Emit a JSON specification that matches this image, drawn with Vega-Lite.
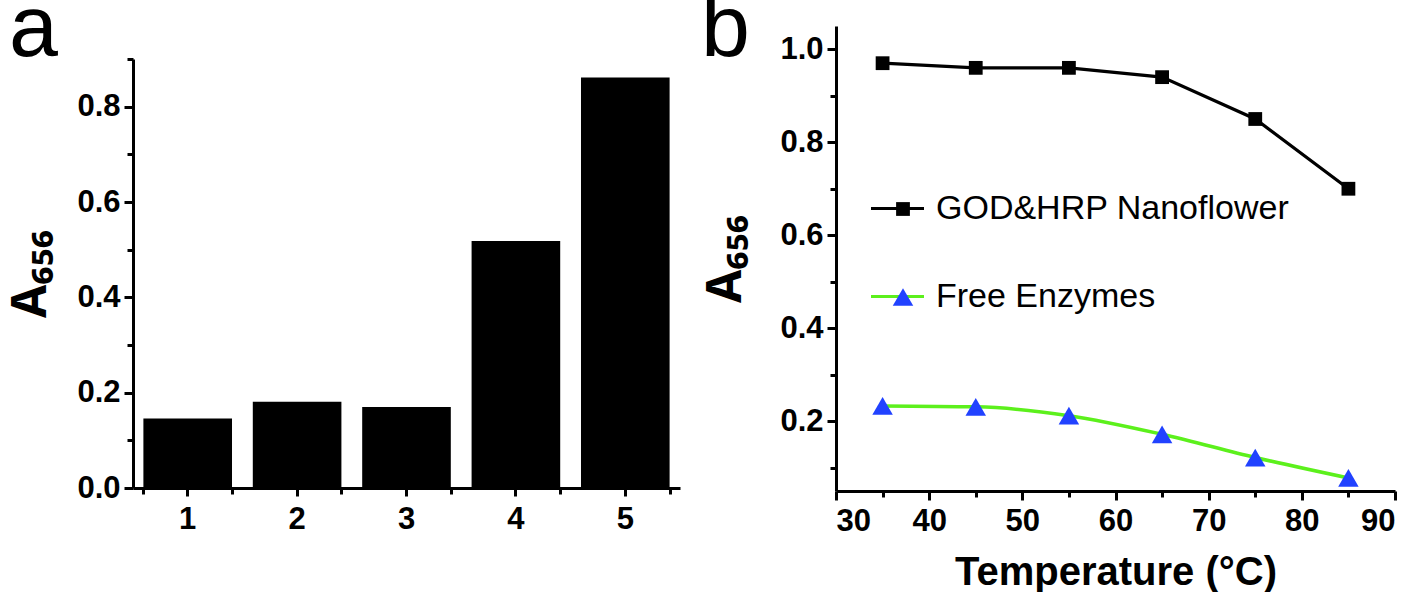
{
  "$schema": "https://vega.github.io/schema/vega-lite/v6.json",
  "background": "white",
  "padding": {"left": 7, "top": -14, "right": 0, "bottom": 0},
  "spacing": 20,
  "config": {
    "font": "Liberation Sans",
    "view": {"stroke": null},
    "axis": {
      "labelFont": "Liberation Sans",
      "labelFontWeight": "bold",
      "labelFontSize": 31,
      "labelColor": "black",
      "domainColor": "black",
      "domainWidth": 3,
      "tickColor": "black",
      "tickWidth": 3,
      "grid": false,
      "titleFont": "Liberation Sans",
      "titleFontWeight": "bold",
      "titleColor": "black"
    },
    "legend": {"labelFont": "Liberation Sans", "labelColor": "black"},
    "title": {"font": "Liberation Sans", "fontSize": 88, "fontWeight": "normal", "color": "black", "anchor": "start", "frame": "bounds"}
  },
  "hconcat": [
    {
      "title": {"text": "a", "offset": -48, "dx": 1},
      "width": 547,
      "height": 462,
      "data": {"values": [
        {"sample": "1", "A656": 0.146},
        {"sample": "2", "A656": 0.181},
        {"sample": "3", "A656": 0.170},
        {"sample": "4", "A656": 0.518},
        {"sample": "5", "A656": 0.861}
      ]},
      "layer": [
        {
          "mark": {"type": "bar", "color": "black"},
          "encoding": {
            "x": {"field": "sample", "type": "ordinal",
              "scale": {"paddingInner": 0.19, "paddingOuter": 0.095},
              "axis": {"title": null, "labelAngle": 0, "tickSize": 8, "labelPadding": 8, "orient": "bottom"}},
            "y": {"field": "A656", "type": "quantitative",
              "scale": {"domain": [0, 0.9], "nice": false, "rangeMax": 33},
              "axis": {"title": "A₆₅₆", "titleFont": "Noto Sans", "titleFontSize": 48, "titlePadding": 21, "values": [0, 0.2, 0.4, 0.6, 0.8], "format": ".1f", "tickSize": 9, "labelPadding": 4, "orient": "left"}}
          }
        },
        {
          "mark": {"type": "bar", "opacity": 0},
          "encoding": {
            "x": {"field": "sample", "type": "ordinal",
              "axis": {"title": null, "labels": false, "domain": false, "tickBand": "extent", "tickSize": 6, "orient": "bottom"}},
            "y": {"field": "A656", "type": "quantitative",
              "axis": {"title": null, "labels": false, "domain": false, "values": [0.1, 0.3, 0.5, 0.7, 0.9], "tickSize": 6, "orient": "left"}}
          }
        }
      ],
      "resolve": {"axis": {"x": "independent", "y": "independent"}}
    },
    {
      "title": {"text": "b", "offset": -48, "dx": -2},
      "width": 559,
      "height": 465,
      "data": {"values": [
        {"temp": 35, "series": "GOD&HRP Nanoflower", "A656": 0.97},
        {"temp": 45, "series": "GOD&HRP Nanoflower", "A656": 0.96},
        {"temp": 55, "series": "GOD&HRP Nanoflower", "A656": 0.96},
        {"temp": 65, "series": "GOD&HRP Nanoflower", "A656": 0.94},
        {"temp": 75, "series": "GOD&HRP Nanoflower", "A656": 0.85},
        {"temp": 85, "series": "GOD&HRP Nanoflower", "A656": 0.70},
        {"temp": 35, "series": "Free Enzymes", "A656": 0.233},
        {"temp": 45, "series": "Free Enzymes", "A656": 0.231},
        {"temp": 55, "series": "Free Enzymes", "A656": 0.212},
        {"temp": 65, "series": "Free Enzymes", "A656": 0.172},
        {"temp": 75, "series": "Free Enzymes", "A656": 0.122},
        {"temp": 85, "series": "Free Enzymes", "A656": 0.078}
      ]},
      "layer": [
        {
          "transform": [{"filter": "datum.series === 'GOD&HRP Nanoflower'"}],
          "mark": {"type": "line", "strokeWidth": 3.2, "interpolate": "linear"},
          "encoding": {
            "x": {"field": "temp", "type": "quantitative",
              "scale": {"domain": [30, 90], "nice": false, "zero": false},
              "axis": {"title": "Temperature (°C)", "titleFontSize": 40, "titlePadding": 16, "values": [30, 40, 50, 60, 70, 80, 90], "tickSize": 9, "labelPadding": 6, "orient": "bottom"}},
            "y": {"field": "A656", "type": "quantitative",
              "scale": {"domain": [0.05, 1.05], "nice": false, "zero": false},
              "axis": {"title": "A₆₅₆", "titleFont": "Noto Sans", "titleFontSize": 48, "titlePadding": 29, "values": [0.2, 0.4, 0.6, 0.8, 1.0], "format": ".1f", "tickSize": 9, "labelPadding": 4, "orient": "left"}},
            "stroke": {"field": "series", "type": "nominal",
              "scale": {"range": ["#5CF01C", "black"]},
              "legend": {"orient": "none", "legendX": 736, "legendY": 154, "title": null, "symbolType": "stroke", "symbolSize": 2809, "symbolStrokeWidth": 3.2, "labelFontSize": 34, "labelFontWeight": "normal", "labelLimit": 500, "labelOffset": 10, "rowPadding": 42, "values": ["GOD&HRP Nanoflower", "Free Enzymes"]}}
          }
        },
        {
          "transform": [{"filter": "datum.series === 'Free Enzymes'"}],
          "mark": {"type": "line", "strokeWidth": 3.5, "interpolate": "monotone"},
          "encoding": {
            "x": {"field": "temp", "type": "quantitative", "axis": null},
            "y": {"field": "A656", "type": "quantitative", "axis": null},
            "stroke": {"field": "series", "type": "nominal"}
          }
        },
        {
          "mark": {"type": "point", "filled": true, "opacity": 1, "strokeWidth": 0},
          "encoding": {
            "x": {"field": "temp", "type": "quantitative", "axis": null},
            "y": {"field": "A656", "type": "quantitative", "axis": null},
            "color": {"field": "series", "type": "nominal",
              "scale": {"domain": ["GOD&HRP Nanoflower", "Free Enzymes"], "range": ["black", "#2142FF"]},
              "legend": {"orient": "none", "legendX": 753, "legendY": 166, "title": null, "labelFontSize": 34, "labelOpacity": 0, "rowPadding": 54, "symbolStrokeWidth": 0}},
            "shape": {"field": "series", "type": "nominal",
              "scale": {"domain": ["GOD&HRP Nanoflower", "Free Enzymes"], "range": ["square", "triangle-up"]}},
            "size": {"field": "series", "type": "nominal",
              "scale": {"domain": ["GOD&HRP Nanoflower", "Free Enzymes"], "range": [190, 420]}}
          }
        },
        {
          "mark": {"type": "point", "opacity": 0},
          "encoding": {
            "x": {"field": "temp", "type": "quantitative",
              "axis": {"title": null, "labels": false, "domain": false, "values": [35, 45, 55, 65, 75, 85], "tickSize": 6, "orient": "bottom"}},
            "y": {"field": "A656", "type": "quantitative",
              "axis": {"title": null, "labels": false, "domain": false, "values": [0.1, 0.3, 0.5, 0.7, 0.9], "tickSize": 6, "orient": "left"}}
          }
        }
      ],
      "resolve": {"axis": {"x": "independent", "y": "independent"}}
    }
  ]
}
